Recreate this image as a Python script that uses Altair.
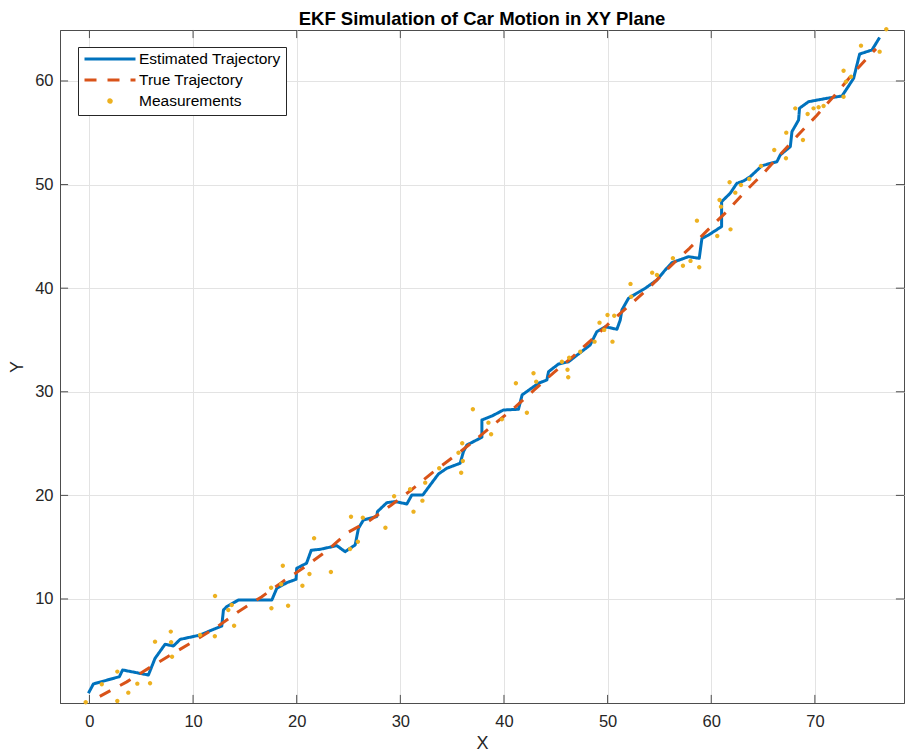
import altair as alt
import pandas as pd

# ---------------- data ----------------
est_points = [
    (-0.1, 0.9), (0.38, 1.8), (2.89, 2.5), (3.2, 3.15), (5.69, 2.66), (6.33, 4.27),
    (7.3, 5.63), (8.1, 5.46), (8.75, 6.1), (10.68, 6.52), (11.8, 7.0), (12.77, 7.39),
    (12.93, 8.94), (13.25, 9.26), (14.37, 9.9), (17.6, 9.9), (18.08, 11.03), (19.04, 11.57),
    (19.94, 11.9), (20.0, 12.96), (20.95, 13.45), (21.4, 14.7), (22.3, 14.8), (23.87, 15.15),
    (24.67, 14.57), (25.64, 15.21), (25.96, 16.82), (26.44, 17.63), (27.73, 17.95), (27.79, 18.43),
    (28.7, 19.3), (29.5, 19.4), (30.63, 19.17), (31.11, 20.04), (32.17, 20.04), (32.88, 21.0),
    (33.68, 22.07), (34.49, 22.62), (35.77, 23.1), (36.09, 24.22), (36.42, 24.86), (37.87, 25.61),
    (37.87, 27.28), (38.83, 27.66), (39.95, 28.24), (41.4, 28.31), (41.75, 29.7), (43.33, 30.82),
    (44.14, 31.14), (44.3, 31.94), (45.26, 32.68), (46.23, 32.9), (48.32, 34.52), (48.96, 35.8),
    (49.77, 36.28), (50.9, 36.03), (51.22, 36.93), (51.38, 37.9), (52.02, 39.03), (53.63, 39.99),
    (54.76, 40.79), (55.56, 41.76), (56.2, 42.46), (57.81, 43.04), (58.84, 42.88), (59.1, 44.8),
    (59.74, 45.13), (61.0, 45.95), (61.0, 48.35), (61.83, 49.16), (62.48, 50.13), (63.12, 50.35),
    (63.76, 50.76), (64.89, 51.82), (66.34, 52.21), (66.66, 52.86), (67.63, 53.66), (67.79, 55.11),
    (68.43, 56.24), (68.52, 57.37), (69.39, 58.0), (71.17, 58.33), (72.62, 58.55), (73.74, 60.26),
    (74.32, 62.6), (75.51, 62.99), (76.25, 64.2),
]

true_points = [
    (1.0, 0.6), (3.6, 2.0), (5.85, 3.4), (8.0, 4.7), (10.2, 6.0), (12.3, 7.3), (14.4, 8.8),
    (16.6, 10.2), (18.7, 11.7), (20.8, 13.1), (22.9, 14.65), (24.9, 16.4), (27.0, 17.55),
    (29.1, 19.05), (31.1, 20.55), (33.1, 22.2), (35.1, 23.7), (37.05, 25.2), (39.15, 26.95),
    (41.1, 28.55), (43.0, 30.25), (44.8, 31.85), (46.7, 33.45), (48.55, 35.1), (50.4, 36.85),
    (52.35, 38.55), (54.2, 40.25), (56.05, 42.1), (57.9, 43.85), (59.65, 45.6), (61.5, 47.4),
    (63.2, 49.25), (65.0, 51.05), (66.75, 53.0), (68.4, 54.8), (70.2, 56.7), (71.9, 58.6),
    (73.5, 60.5), (75.25, 62.45), (75.9, 63.1),
]

meas_points = [
    (-0.36, 0.03), (1.19, 1.77), (2.69, 2.99), (2.69, 0.15), (3.75, 0.96), (4.62, 1.83),
    (5.85, 1.86), (6.33, 5.88), (7.85, 6.85), (7.88, 5.82), (7.97, 4.43), (10.68, 6.52),
    (12.12, 10.29), (12.1, 6.4), (13.4, 8.94), (13.73, 9.42), (13.96, 7.42), (17.53, 11.09),
    (17.56, 9.1), (18.66, 13.21), (18.5, 11.42), (19.17, 9.35), (20.55, 11.28), (21.23, 12.41),
    (21.68, 15.86), (23.3, 12.6), (25.24, 17.94), (25.15, 14.83), (25.9, 15.53), (26.38, 17.85),
    (28.56, 16.88), (29.4, 19.91), (31.27, 18.43), (30.94, 20.59), (32.13, 19.49), (32.4, 21.23),
    (33.75, 22.62), (35.97, 25.03), (35.61, 24.12), (36.03, 23.32), (35.87, 22.19), (37.0, 28.31),
    (38.5, 27.02), (38.76, 25.9), (39.8, 27.34), (41.15, 30.82), (42.21, 27.98), (43.11, 30.98),
    (42.85, 31.79), (45.59, 32.9), (46.29, 33.29), (46.13, 32.13), (46.2, 31.4), (47.36, 33.87),
    (48.74, 34.84), (49.22, 36.67), (49.67, 35.97), (49.99, 37.41), (50.64, 37.34), (50.47, 34.84),
    (52.21, 40.41), (52.28, 39.18), (54.3, 41.5), (54.76, 41.27), (56.3, 42.9), (57.27, 42.17),
    (58.0, 42.63), (58.84, 42.02), (58.62, 46.52), (60.58, 45.04), (61.86, 45.68), (60.8, 48.51),
    (60.94, 47.87), (61.77, 50.22), (62.32, 49.22), (62.87, 49.96), (63.67, 50.54), (64.8, 51.8),
    (66.08, 53.34), (67.21, 52.54), (67.24, 55.01), (68.11, 57.36), (68.85, 54.3), (69.3, 56.81),
    (69.87, 57.36), (70.36, 57.46), (70.84, 57.59), (72.77, 58.48), (72.77, 60.99), (73.0, 59.93),
    (73.49, 60.41), (74.45, 63.41), (76.25, 62.83), (76.89, 64.99),
]

series_names = ["Estimated Trajectory", "True Trajectory", "Measurements"]
series_colors = ["#0072BD", "#D95319", "#EDB120"]
x_ticks = [0, 10, 20, 30, 40, 50, 60, 70]
y_ticks = [10, 20, 30, 40, 50, 60]
X_DOMAIN = [-2.84, 78.6]
Y_DOMAIN = [-0.04, 64.92]

# ---------------- tables ----------------
rows = []
for i, (x, y) in enumerate(est_points):
    rows.append({"x": x, "y": y, "series": series_names[0], "order": i})
for i, (x, y) in enumerate(true_points):
    rows.append({"x": x, "y": y, "series": series_names[1], "order": i})
lines_df = pd.DataFrame(rows)
meas_df = pd.DataFrame(meas_points, columns=["x", "y"])
meas_df["series"] = series_names[2]

TICK = 0.78  # inward tick length in data units (~8 px)
bottom_ticks = pd.DataFrame({"x": x_ticks, "y": Y_DOMAIN[0], "y2": Y_DOMAIN[0] + TICK})
top_ticks = pd.DataFrame({"x": x_ticks, "y": Y_DOMAIN[1] - TICK, "y2": Y_DOMAIN[1]})
left_ticks = pd.DataFrame({"y": y_ticks, "x": X_DOMAIN[0], "x2": X_DOMAIN[0] + TICK})
right_ticks = pd.DataFrame({"y": y_ticks, "x": X_DOMAIN[1] - TICK, "x2": X_DOMAIN[1]})

FONT = "Liberation Sans"
AX_COLOR = "#4D4D4D"

# small dot as a custom symbol path (unit square -1..1), so a single symbol size works
DOT = "M -0.05 0 A 0.05 0.05 0 1 0 0.05 0 A 0.05 0.05 0 1 0 -0.05 0 Z"
SYM_SIZE = 2600

xscale = alt.Scale(domain=X_DOMAIN, nice=False, zero=False)
yscale = alt.Scale(domain=Y_DOMAIN, nice=False, zero=False)
xaxis = alt.Axis(values=x_ticks, title="X", grid=True, tickSize=0, labelPadding=10,
                 titlePadding=5, format="d")
yaxis = alt.Axis(values=y_ticks, title="Y", grid=True, tickSize=0, labelPadding=7,
                 titlePadding=8, format="d")

legend = alt.Legend(
    title=None, orient="none", legendX=18, legendY=17,
    fillColor="white", strokeColor="#262626", padding=5, cornerRadius=0,
    labelFont=FONT, labelFontSize=15.5, labelColor="#000000", labelOffset=2,
    symbolStrokeWidth=3, symbolSize=SYM_SIZE, clipHeight=14, rowPadding=5,
)

color_scale = alt.Scale(domain=series_names, range=series_colors)
dash_scale = alt.Scale(domain=series_names, range=[[1, 0], [12, 11], [1, 0]])
shape_scale = alt.Scale(domain=series_names, range=["stroke", "stroke", DOT])

lines = alt.Chart(lines_df).mark_line(strokeWidth=3, strokeCap="butt", strokeJoin="round").encode(
    x=alt.X("x:Q", scale=xscale, axis=xaxis),
    y=alt.Y("y:Q", scale=yscale, axis=yaxis),
    color=alt.Color("series:N", scale=color_scale, legend=legend),
    strokeDash=alt.StrokeDash("series:N", scale=dash_scale, legend=legend),
    detail="series:N",
    order="order:Q",
)

meas = alt.Chart(meas_df).mark_point(filled=True, opacity=1, size=7700, strokeWidth=0).encode(
    x=alt.X("x:Q", scale=xscale, axis=xaxis),
    y=alt.Y("y:Q", scale=yscale, axis=yaxis),
    color=alt.Color("series:N", scale=color_scale, legend=legend),
    shape=alt.Shape("series:N", scale=shape_scale, legend=legend),
)

def vrules(df):
    return alt.Chart(df).mark_rule(color=AX_COLOR, strokeWidth=1).encode(
        x=alt.X("x:Q", scale=xscale, axis=xaxis),
        y=alt.Y("y:Q", scale=yscale, axis=yaxis),
        y2="y2:Q",
    )

def hrules(df):
    return alt.Chart(df).mark_rule(color=AX_COLOR, strokeWidth=1).encode(
        x=alt.X("x:Q", scale=xscale, axis=xaxis),
        x2="x2:Q",
        y=alt.Y("y:Q", scale=yscale, axis=yaxis),
    )

chart = alt.layer(
    vrules(bottom_ticks), vrules(top_ticks), hrules(left_ticks), hrules(right_ticks),
    lines, meas,
).properties(
    width=844, height=673,
    title=alt.TitleParams("EKF Simulation of Car Motion in XY Plane", font=FONT, fontSize=18.5,
                          fontWeight="bold", color="#000000", anchor="middle", offset=0,
                          dy=1, frame="group"),
    autosize=alt.AutoSizeParams(type="none"),
    padding={"left": 60, "top": 30, "right": 1, "bottom": 53},
).configure(
    background="white",
).configure_view(
    stroke=AX_COLOR, strokeWidth=1,
).configure_axis(
    labelFont=FONT, labelFontSize=16.5, labelColor="#262626",
    titleFont=FONT, titleFontSize=18, titleFontWeight="normal", titleColor="#262626",
    domainColor=AX_COLOR, domainWidth=1, gridColor="#E3E3E3", gridWidth=1,
)

chart.save("out.html", embed_options={"renderer": "svg", "actions": False})
